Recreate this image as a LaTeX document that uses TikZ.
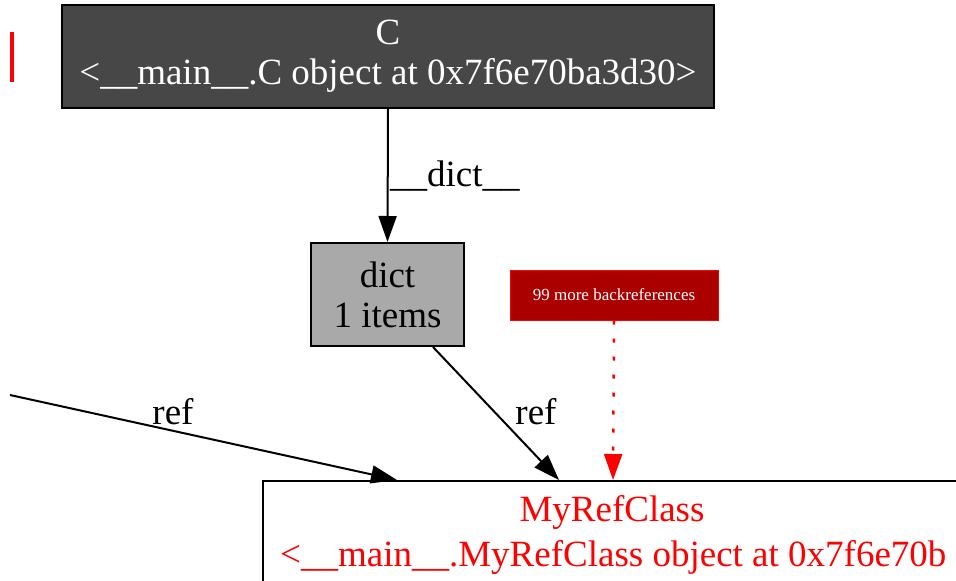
\documentclass[tikz,border=0pt]{standalone}
\usepackage{fontspec}
\setmainfont{Liberation Serif}
\usetikzlibrary{arrows.meta,calc}
\definecolor{objgray}{HTML}{474747}
\definecolor{dictgray}{HTML}{A9A9A9}
\definecolor{backred}{HTML}{AA0000}

\begin{document}
\begin{tikzpicture}[x=1pt,y=-1pt,
  objbox/.style={draw=black,line width=2pt,inner sep=0pt,align=center,
    font=\fontsize{37}{40}\selectfont},
  lbl/.style={inner sep=0pt,font=\fontsize{37}{40}\selectfont},
  refedge/.style={line width=2pt,-{Triangle[length=26pt,width=18pt]}}]
  \useasboundingbox (0,0) rectangle (956,581);
  \clip (0,0) rectangle (956,581);
  \draw[red,line width=4pt](12,32)--(12,82);
  \node[objbox,fill=objgray,text=white,minimum width=652pt,minimum height=103pt] (cobj) at (388,56.5) {C\\<\_\_main\_\_.C object at 0x7f6e70ba3d30>};
  \node[objbox,fill=dictgray,minimum width=153pt,minimum height=103pt] (dict) at (387.5,294.5) {dict\\1 items};
  \node[draw=red,line width=1pt,fill=backred,text=white,inner sep=0pt,minimum width=208pt,minimum height=50pt,font=\fontsize{17}{19}\selectfont] (backrefs) at (614,295) {99 more backreferences};
  \node[draw=black,line width=2pt,minimum width=740pt,minimum height=160pt] (myref) at (633,561) {};
  \node[lbl,red] (myrefname) at (612,512) {MyRefClass};
  \node[lbl,red,anchor=base west] (myrefaddr) at (280,566) {<\_\_main\_\_.MyRefClass object at 0x7f6e70b};
  \coordinate (lefttail) at (10,395);
  \draw[refedge](cobj.south)--(dict.north);
  \node[lbl,anchor=base west] (dictlbl) at (390,186) {\_\_dict\_\_};
  \draw[refedge]($(dict.south west)+(123,0)$)--($(myref.north west)+(297,0)$);
  \node[lbl] (reflbl) at (536,412) {ref};
  \draw[refedge](lefttail)--($(myref.north west)+(135,0)$);
  \node[lbl] (leftlbl) at (173,412) {ref};
  \draw[red,line width=2.5pt,dash pattern=on 4pt off 14pt,-{Triangle[length=26pt,width=18pt]}](backrefs.south)--($(myref.north west)+(351,0)$);
\end{tikzpicture}
\end{document}
